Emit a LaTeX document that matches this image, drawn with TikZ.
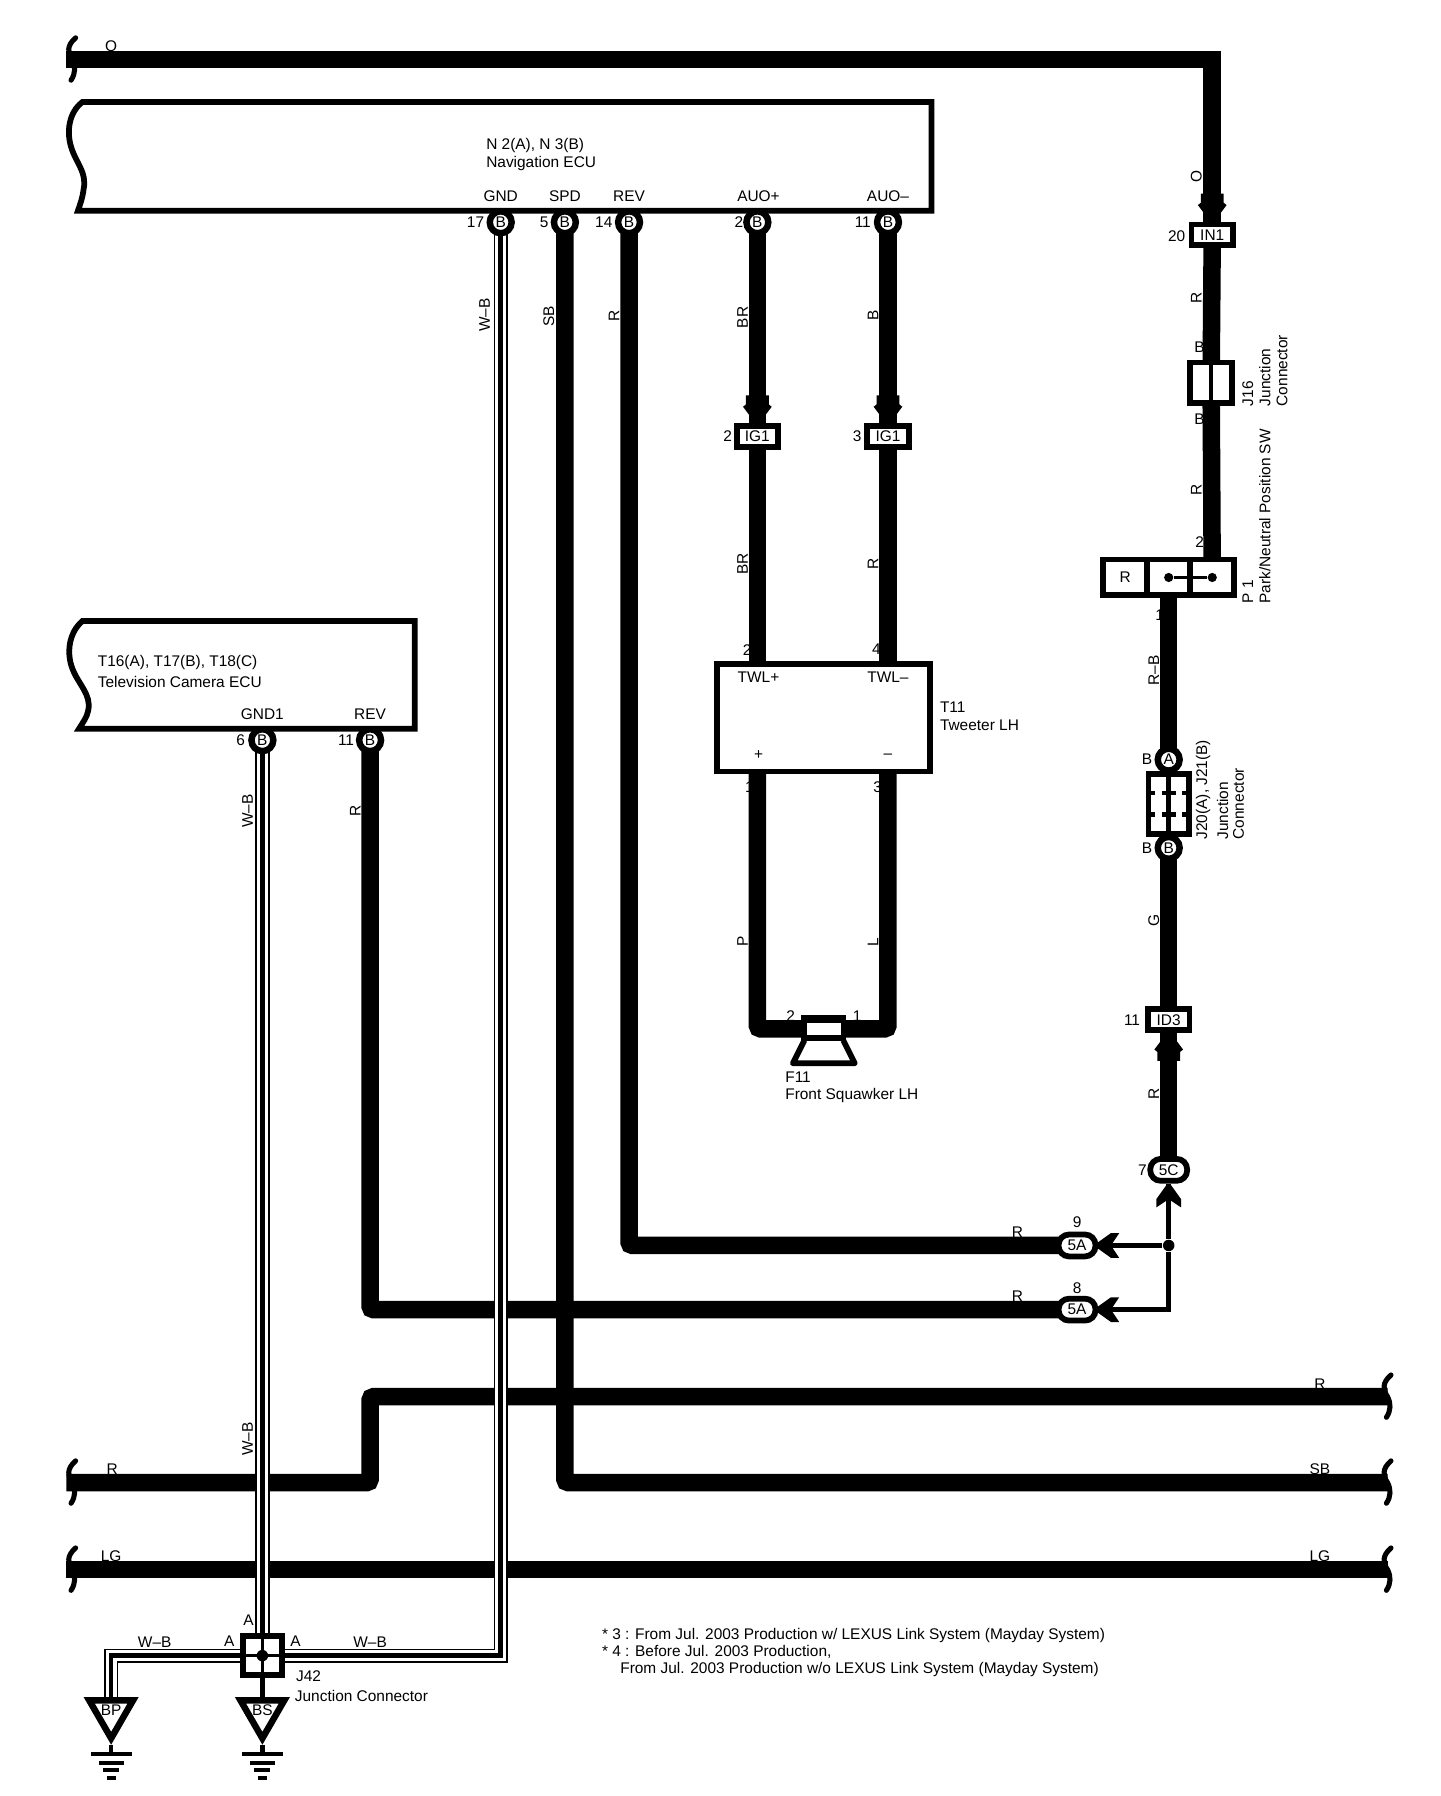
\documentclass[tikz,border=0pt]{standalone}
\usepackage{fontspec}
\setmainfont{Liberation Sans}
\usepackage{tikz}
\usetikzlibrary{positioning,calc,backgrounds,shapes.geometric}
\tikzstyle{every node}=[font=\fontsize{6.7}{8}\selectfont,inner sep=0pt]
\tikzstyle{pinB}=[draw,line width=2.8pt,fill=white,circle,minimum size=9.5pt]
\tikzstyle{oval}=[draw,line width=2.5pt,fill=white,rectangle,rounded corners=4.5pt,minimum width=16pt,minimum height=9.5pt]
\tikzstyle{conn}=[draw,line width=2.5pt,fill=white,rectangle,minimum width=18pt,minimum height=9pt]
\tikzstyle{cell}=[draw,line width=2.5pt,fill=white,rectangle,minimum width=19pt,minimum height=15.5pt]
\tikzstyle{earth}=[draw,line width=2.8pt,fill=white,regular polygon,regular polygon sides=3,shape border rotate=180,minimum size=22pt]
\tikzstyle{sdot}=[fill=black,circle,minimum size=4pt]
\tikzstyle{vlab}=[rotate=90]
\tikzstyle{vtxt}=[rotate=90,anchor=west]
\tikzstyle{htxt}=[anchor=west]
\tikzstyle{wire}=[line width=7.6pt,shorten <=-2pt,shorten >=-2pt,rounded corners=1.5pt]
\tikzstyle{thinwire}=[line width=2pt]
\tikzstyle{wbwire}=[line width=6.2pt,shorten <=-1pt,shorten >=-1pt,postaction={draw=white,line width=4.8pt},postaction={draw=black,line width=2pt}]
\tikzstyle{shell}=[line width=2.5pt]
\tikzset{
  chev/.pic={\fill (-10,-24) -- (10,-24) -- (10,-16) -- (12.5,-14) -- (2,0) -- (0,-3) -- (-2,0) -- (-12.5,-14) -- (-10,-16) -- cycle;},
  fish/.pic={\fill (-2,0) -- (-12,-14) -- (-12,-22) -- (0,-14) -- (12,-22) -- (12,-14) -- (2,0) -- cycle;},
  brk/.pic={\draw[line width=2.2pt,line cap=round] (4,-19) .. controls (-4,-12) and (-3,-6) .. (1,0) .. controls (4,6) and (4,12) .. (0,18);}
}
\newcommand{\gndmark}[1]{
  \draw[line width=2pt] (#1.corner 1) -- ++(0,8) coordinate (#1g);
  \draw[line width=2pt] ($(#1g)+(-18,0)$) -- ++(36,0);
  \draw[line width=2pt] ($(#1g)+(-11,8)$) -- ++(22,0);
  \draw[line width=2pt] ($(#1g)+(-7,14)$) -- ++(14,0);
  \draw[line width=2pt] ($(#1g)+(-4,21)$) -- ++(8,0);
}
\begin{document}
\begin{tikzpicture}[x=.4973pt,y=-.4973pt]
\useasboundingbox (0,0) rectangle (1256.8,1567.5);
\coordinate (oEnd) at (62,52);
\coordinate (rEndL) at (62,1294);
\coordinate (rEndR) at (1207,1219);
\coordinate (rBend) at (323,1219);
\coordinate (sbEnd) at (1207,1294);
\coordinate (lgEndL) at (62,1370);
\coordinate (lgEndR) at (1207,1370);

\node [pinB] (pinGND) at (437,194) {B};
\node [pinB] (pinSPD) at (493,194) {B};
\node [pinB] (pinREV) at (549,194) {B};
\node [pinB] (pinAUOp) at (661,194) {B};
\node [pinB] (pinAUOm) at (775,194) {B};
\node [pinB] (pinGND1) at (229,646) {B};
\node [pinB] (pinTREV) at (323,646) {B};
\node [conn] (connIN1) at (1058,205) {IN1};
\node [conn] (connIG1a) at (661,381) {IG1};
\node [conn] (connIG1b) at (775,381) {IG1};
\node [draw,line width=2.5pt,fill=white,rectangle,minimum width=92.5pt,minimum height=46.5pt] (twt) at (718.5,626.5) {};
\node [draw,line width=2.5pt,fill=white,rectangle,minimum width=17pt,minimum height=8pt] (spk) at (719,898) {};
\node [draw,line width=2.5pt,fill=white,rectangle,minimum width=18pt,minimum height=17.5pt] (J16) at (1057,334) {};
\node [cell] (P1r) at (982,504) {R};
\node [cell] (P1s) at (1020,504) {};
\node [cell] (P1t) at (1058,504) {};
\node [pinB] (pinJA) at (1020,663) {A};
\node [pinB] (pinJB) at (1020,740) {B};
\node [draw,line width=2.5pt,fill=white,rectangle,minimum width=17.5pt,minimum height=26pt] (J20) at (1020,701.5) {};
\node [conn] (connID3) at (1020,890) {ID3};
\node [oval] (oval5C) at (1020,1021) {5C};
\node [oval] (oval5Aa) at (940,1087) {5A};
\node [oval] (oval5Ab) at (940,1143) {5A};
\node [sdot,minimum size=5pt] (jct) at (1020,1087) {};
\node [draw,line width=2.5pt,fill=white,rectangle,minimum width=17pt,minimum height=17pt] (J42) at (229,1445) {};
\node [earth,label={[yshift=1pt]center:BP}] (BP) at (97,1495) {};
\node [earth,label={[yshift=1pt]center:BS}] (BS) at (229,1495) {};

\begin{pgfonlayer}{background}
\fill [white] (0,0) rectangle (1256.8,1567.5);
\draw [wire,rounded corners=0pt] (oEnd) -| (connIN1);
\draw [wire] (connIN1) -- (J16);
\draw [wire] (J16) -- (P1t);
\draw [wire] (P1s) -- (pinJA);
\draw [wire] (pinJB) -- (connID3);
\draw [wire] (connID3) -- (oval5C);
\draw [wire] (pinAUOp) -- (connIG1a);
\draw [wire] (pinAUOm) -- (connIG1b);
\draw [wire] (connIG1a) -- (connIG1a |- twt.north);
\draw [wire] (connIG1b) -- (connIG1b |- twt.north);
\draw [wire] (connIG1a |- twt.south) |- (spk);
\draw [wire] (connIG1b |- twt.south) |- (spk);
\draw [wire] (pinSPD) |- (sbEnd);
\draw [wire] (pinREV) |- (oval5Aa);
\draw [wire] (pinTREV) |- (oval5Ab);
\draw [wire] (rEndL) -| (rBend) -- (rEndR);
\draw [wire] (lgEndL) -- (lgEndR);
\draw [thinwire] (oval5C) -- (jct);
\draw [thinwire] (jct) -- (oval5Aa);
\draw [thinwire] (jct) |- (oval5Ab);
\draw [thinwire] (J42) -- (BS);
\draw [wbwire] (pinGND1) -- (J42);
\draw [wbwire] (pinGND) |- (J42);
\draw [wbwire] (J42) -| (BP);
\end{pgfonlayer}

\draw [shell,fill=white] (813,89) -- (72,89) .. controls (60,98) and (58,115) .. (62,128) .. controls (66,142) and (76,150) .. (73,165) .. controls (72,173) and (70,178) .. (68,184) -- (813,184) -- cycle;
\draw [shell,fill=white] (362,542) -- (72,542) .. controls (60,552) and (58,570) .. (63,583) .. controls (68,597) and (80,606) .. (77,620) .. controls (76,626) and (72,631) .. (69,636) -- (362,636) -- cycle;
\pic at (oEnd) {brk};
\pic at (rEndL) {brk};
\pic at (lgEndL) {brk};
\pic at (1210,1219) {brk};
\pic at (1210,1294) {brk};
\pic at (1210,1370) {brk};
\pic at (1058,193) {chev};
\pic at (661,369) {chev};
\pic at (775,369) {chev};
\pic [rotate=180] at (1020,902) {chev};
\pic [rotate=180,scale=.9] at (1020,1034) {fish};
\pic [rotate=-90,scale=.9] at (957,1087) {fish};
\pic [rotate=-90,scale=.9] at (957,1143) {fish};

\draw [line width=2pt] (J16.north) -- (J16.south);
\node [sdot] (swA) at (1020,504) {};
\node [sdot] (swB) at (1058,504) {};
\draw [line width=1.5pt] (swA) -- (swB);
\draw [line width=2pt] (J20.north) -- (J20.south);
\foreach \ty in {692,711} {
  \draw [line width=2pt] (1001,\ty) -- (1008,\ty);
  \draw [line width=2pt] (1014,\ty) -- (1026,\ty);
  \draw [line width=2pt] (1032,\ty) -- (1039,\ty);
}
\draw [line width=1pt] (J42.north) -- (J42.south);
\draw [line width=1.5pt] (J42.west) -- (J42.east);
\node [sdot,minimum size=5pt] (j42dot) at (229,1445) {};
\draw [line width=2.5pt,line join=round] (702,908) -- (692,928) -- (746,928) -- (736,908);
\draw [line width=2pt] (spk.north west) -- (spk.north east);
\gndmark{BP}
\gndmark{BS}

\node (tO) at (97,40) {O};
\node [htxt] (tNav1) at (424,127) {N 2(A), N 3(B)};
\node [htxt] (tNav2) at (424,143) {Navigation ECU};
\node (tGND) at (437,171) {GND};
\node (tSPD) at (493,171) {SPD};
\node (tREV) at (549,171) {REV};
\node (tAp) at (662,171) {AUO+};
\node (tAm) at (775,171) {AUO–};
\node (n17) at (415,194) {17};
\node (n5) at (475,194) {5};
\node (n14) at (527,194) {14};
\node (n2) at (645,194) {2};
\node (n11) at (753,194) {11};
\node [vlab] (tWB1) at (423,275) {W–B};
\node [vlab] (tSB) at (479,276) {SB};
\node [vlab] (tR1) at (536,276) {R};
\node [vlab] (tBR1) at (648,277) {BR};
\node [vlab] (tB1) at (762,275) {B};
\node (nIGa) at (635,381) {2};
\node (nIGb) at (748,381) {3};
\node [vlab] (tBR2) at (648,492) {BR};
\node [vlab] (tR2) at (762,492) {R};
\node (nT2) at (652,567) {2};
\node (nT4) at (765,567) {4};
\node (tTp) at (662,591) {TWL+};
\node (tTm) at (775,591) {TWL–};
\node (tPl) at (662,659) {+};
\node (tMi) at (775,660) {–};
\node [htxt] (tT11) at (820,617) {T11};
\node [htxt] (tTw) at (820,633) {Tweeter LH};
\node (nT1) at (654,687) {1};
\node (nT3) at (766,687) {3};
\node [vlab] (tP) at (648,822) {P};
\node [vlab] (tL) at (762,822) {L};
\node (nS2) at (690,887) {2};
\node (nS1) at (748,887) {1};
\node [htxt] (tF11) at (685,940) {F11};
\node [htxt] (tFS) at (685,956) {Front Squawker LH};
\node [vlab] (tO2) at (1044,154) {O};
\node (n20) at (1027,206) {20};
\node [vlab] (tR3) at (1044,260) {R};
\node (tJB1) at (1047,303) {B};
\node (tJB2) at (1047,366) {B};
\node [vtxt] (tJ16) at (1089,355) {J16};
\node [vtxt] (tJ16a) at (1104,355) {Junction};
\node [vtxt] (tJ16b) at (1119,355) {Connector};
\node [vlab] (tR4) at (1044,428) {R};
\node (nP2) at (1047,473) {2};
\node [vtxt] (tP1) at (1089,527) {P 1};
\node [vtxt] (tP1a) at (1104,527) {Park/Neutral Position SW};
\node (nP1) at (1012,537) {1};
\node [vlab] (tRB) at (1007,585) {R–B};
\node (tBa) at (1001,663) {B};
\node (tBb) at (1001,740) {B};
\node [vtxt] (tJ20) at (1050,733) {J20(A), J21(B)};
\node [vtxt] (tJ20a) at (1067,733) {Junction};
\node [vtxt] (tJ20b) at (1081,733) {Connector};
\node [vlab] (tG) at (1007,803) {G};
\node (n11b) at (988,890) {11};
\node [vlab] (tR5) at (1007,955) {R};
\node (n7) at (997,1021) {7};
\node (n9) at (940,1067) {9};
\node (n8) at (940,1124) {8};
\node (tR6) at (888,1075) {R};
\node (tR7) at (888,1131) {R};
\node [htxt] (tTV1) at (85,578) {T16(A), T17(B), T18(C)};
\node [htxt] (tTV2) at (85,595) {Television Camera ECU};
\node (tGND1) at (229,623) {GND1};
\node (tTREV) at (323,623) {REV};
\node (n6) at (210,646) {6};
\node (n11c) at (302,646) {11};
\node [vlab] (tWB2) at (216,708) {W–B};
\node [vlab] (tR8) at (310,708) {R};
\node [vlab] (tWB3) at (216,1256) {W–B};
\node (tR9) at (1152,1208) {R};
\node (tR10) at (98,1282) {R};
\node (tSB2) at (1152,1282) {SB};
\node (tLG1) at (97,1358) {LG};
\node (tLG2) at (1152,1358) {LG};
\node (tA1) at (217,1414) {A};
\node (tA2) at (200,1432) {A};
\node (tA3) at (258,1432) {A};
\node (tWB4) at (135,1433) {W–B};
\node (tWB5) at (323,1433) {W–B};
\node [htxt] (tJ42) at (258,1463) {J42};
\node [htxt] (tJ42a) at (257,1480) {Junction Connector};
\node [htxt] (tN1) at (525,1427) {* 3 : From Jul.  2003 Production w/ LEXUS Link System (Mayday System)};
\node [htxt] (tN2) at (525,1442) {* 4 : Before Jul.  2003 Production,};
\node [htxt] (tN3) at (541,1457) {From Jul.  2003 Production w/o LEXUS Link System (Mayday System)};
\end{tikzpicture}
\end{document}
